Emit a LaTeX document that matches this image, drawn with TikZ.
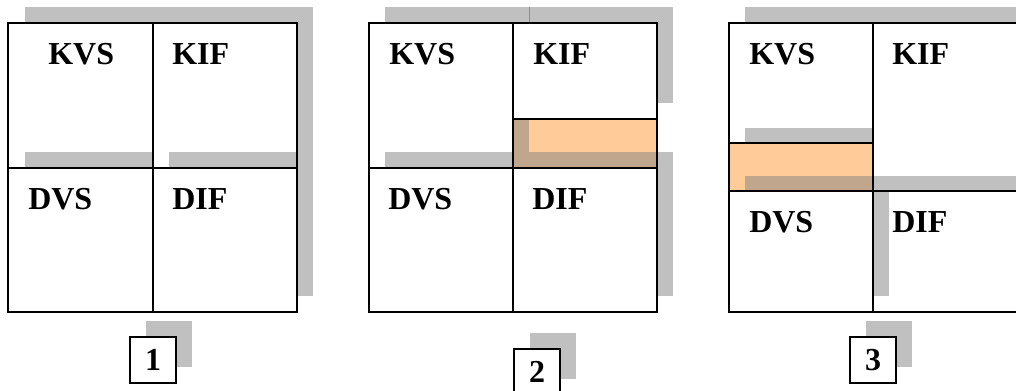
\documentclass[tikz,border=0pt]{standalone}
\usepackage{fontspec}
\setmainfont{Liberation Serif}
\usetikzlibrary{shadows}

\definecolor{shadowgray}{RGB}{192,192,192}
\definecolor{bandorange}{RGB}{255,204,153}
\definecolor{bandshade}{RGB}{192,166,140}

\tikzset{
  shadowstrip/.style={fill=shadowgray, draw=none},
  bandfill/.style={fill=bandorange, draw=none},
  bandshadow/.style={fill=bandshade, draw=none},
  gridline/.style={line width=1.5pt, line cap=rect},
  celltext/.style={anchor=base west, inner sep=0pt, font=\bfseries\fontsize{24}{24}\selectfont},
  numbox/.style={draw, line width=1.5pt, fill=white, minimum size=34.5pt, inner sep=0pt,
    font=\bfseries\fontsize{24}{24}\selectfont,
    general shadow={fill=shadowgray, shadow xshift=12pt, shadow yshift=12pt}}
}

\begin{document}
\begin{tikzpicture}[x=0.75pt, y=-0.75pt]

    % Page size (pixel grid)
    \useasboundingbox (0,0) rectangle (1016,391);

    % Grey shadow strips
    \fill[shadowstrip] (25,7) rectangle (313,23);
    \fill[shadowstrip] (297,7) rectangle (313,296);
    \fill[shadowstrip] (25,152) rectangle (153,168);
    \fill[shadowstrip] (169,152) rectangle (297,168);

    \fill[shadowstrip] (385,7) rectangle (673,23);
    \draw[line width=0.4pt, gray!90] (529,7) -- (529,23);
    \fill[shadowstrip] (657,7) rectangle (673,103);
    \fill[shadowstrip] (657,152) rectangle (673,296);
    \fill[shadowstrip] (385,152) rectangle (513,168);

    \fill[shadowstrip] (745,7) rectangle (1020,23);
    \fill[shadowstrip] (745,128) rectangle (873,143);
    \fill[shadowstrip] (873,176) rectangle (1020,191);
    \fill[shadowstrip] (873,191) rectangle (889,296);

    % Orange bands and their shaded parts
    \fill[bandfill] (513,119) rectangle (657,168);
    \fill[bandshadow] (513,119) rectangle (529,168);
    \fill[bandshadow] (529,152) rectangle (657,168);

    \fill[bandfill] (729,143) rectangle (873,191);
    \fill[bandshadow] (745,176) rectangle (873,191);

    % Panel 1 grid
    \draw[gridline] (8,23) rectangle (297,312);
    \draw[gridline] (153,23) -- (153,312);
    \draw[gridline] (8,168) -- (297,168);

    % Panel 2 grid
    \draw[gridline] (369,23) rectangle (657,312);
    \draw[gridline] (513,23) -- (513,312);
    \draw[gridline] (369,168) -- (657,168);
    \draw[gridline] (513,119) -- (657,119);

    % Panel 3 grid
    \draw[gridline] (729,23) rectangle (1018,312);
    \draw[gridline] (873,23) -- (873,312);
    \draw[gridline] (729,143) -- (873,143);
    \draw[gridline] (729,191) -- (1018,191);

    % Cell labels: name/x/y (baseline)
    \foreach \name/\txt/\x/\y in {
        kvsA/KVS/48/65, kifA/KIF/172/65, dvsA/DVS/28/210, difA/DIF/172/210,
        kvsB/KVS/389/65, kifB/KIF/533/65, dvsB/DVS/388/210, difB/DIF/532/210,
        kvsC/KVS/749/65, kifC/KIF/892/65, dvsC/DVS/749/233, difC/DIF/892/233} {
        \node[celltext] (\name) at (\x,\y) {\txt};
    }

    % Numbered boxes
    \node[numbox] (numA) at (153,360) {1};
    \node[numbox] (numB) at (537,372) {2};
    \node[numbox] (numC) at (873,360) {3};

\end{tikzpicture}
\end{document}
